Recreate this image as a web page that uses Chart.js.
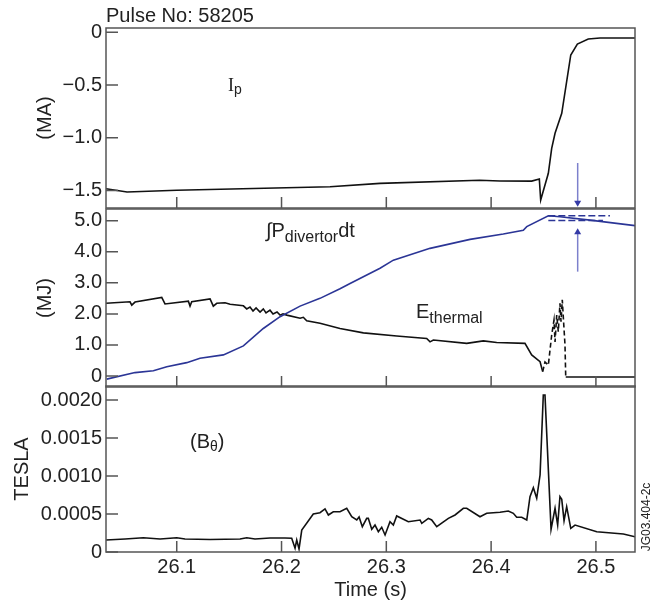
<!DOCTYPE html>
<html>
<head>
<meta charset="utf-8">
<script src="https://cdn.jsdelivr.net/npm/chart.js@4.4.1/dist/chart.umd.min.js"></script>
<style>
  body { margin: 0; background: #fff; }
  #wrap { position: relative; width: 656px; height: 608px; }
  canvas { position: absolute; left: 0; }
</style>
</head>
<body>
<div id="wrap">
  <canvas id="ipChart" width="656" height="215" style="top:0"></canvas>
  <canvas id="energyChart" width="656" height="200" style="top:195px"></canvas>
  <canvas id="bthetaChart" width="656" height="236" style="top:372px"></canvas>
</div>
<script>
// Shared time axis (s)
const timeTicks = [26.1, 26.2, 26.3, 26.4, 26.5];
const timeTickLabels = ['26.1', '26.2', '26.3', '26.4', '26.5'];

// Plasma current I_p (MA)
const ipTime = [26.0325, 26.0526, 26.1, 26.2463, 26.294, 26.389, 26.4085, 26.4387, 26.446, 26.4473,
  26.4546, 26.4578, 26.461, 26.4674, 26.476, 26.4823, 26.4927, 26.5039, 26.5373];
const ipValue = [-1.484, -1.515, -1.499, -1.465, -1.433, -1.404, -1.411, -1.412, -1.392, -1.591,
  -1.338, -1.101, -0.958, -0.768, -0.215, -0.111, -0.064, -0.054, -0.054];
const ipTicks = [0, -0.5, -1.0, -1.5];
const ipTickLabels = ['0', '\u22120.5', '\u22121.0', '\u22121.5'];

// Integrated divertor power (MJ)
const pdivTime = [26.0332, 26.0602, 26.0777, 26.0905, 26.1095, 26.1222, 26.1445, 26.1636, 26.1826, 26.1986,
  26.2177, 26.2367, 26.2558, 26.2654, 26.294, 26.3067, 26.3417, 26.3799, 26.4116, 26.4307,
  26.434, 26.4546, 26.4657, 26.4944, 26.5373];
const pdivValue = [-0.1, 0.11, 0.17, 0.30, 0.43, 0.57, 0.68, 0.97, 1.53, 1.91,
  2.25, 2.50, 2.81, 2.98, 3.47, 3.73, 4.11, 4.40, 4.57, 4.69,
  4.81, 5.16, 5.13, 5.02, 4.84];

// Thermal energy (MJ)
const ethTime = [26.0325, 26.0554, 26.0571, 26.0602, 26.0857, 26.0888, 26.1111, 26.1127, 26.1143, 26.1318,
  26.1349, 26.1382, 26.1461, 26.1509, 26.1636, 26.1668, 26.1699, 26.1728, 26.1757, 26.1795,
  26.1826, 26.1852, 26.189, 26.1919, 26.1957, 26.1986, 26.2014, 26.205, 26.2177, 26.2208,
  26.224, 26.2367, 26.2558, 26.2781, 26.3099, 26.3385, 26.3417, 26.3449, 26.3767, 26.3926,
  26.4053, 26.4323, 26.4387, 26.4467, 26.4492, 26.4514, 26.4546, 26.4578, 26.46, 26.461,
  26.4626, 26.4641, 26.4657, 26.4667, 26.4679, 26.4705, 26.4712, 26.5373];
const ethValue = [2.34, 2.39, 2.28, 2.38, 2.53, 2.32, 2.41, 2.25, 2.39, 2.48,
  2.25, 2.34, 2.36, 2.31, 2.26, 2.16, 2.22, 2.09, 2.19, 2.06,
  2.16, 2.03, 2.12, 2.00, 2.06, 1.96, 2.00, 1.96, 1.86, 1.89,
  1.78, 1.70, 1.53, 1.39, 1.29, 1.21, 1.10, 1.16, 1.05, 1.13,
  1.08, 1.05, 0.68, 0.46, 0.14, 0.45, 0.35, 1.32, 1.80, 1.10,
  1.96, 1.43, 2.34, 1.75, 2.45, 1.00, -0.03, -0.03];
const ethDashStart = 26.4492;
const ethDashEnd = 26.4712;

// Reference levels (dashed, blue)
const levelTime = [26.4546, 26.5134];
const levelUpper = [5.16, 5.16];
const levelLowerTime = [26.4546, 26.5067];
const levelLower = [5.01, 5.01];
const energyTicks = [0, 1, 2, 3, 4, 5];
const energyTickLabels = ['0', '1.0', '2.0', '3.0', '4.0', '5.0'];

// Poloidal field B_theta (T)
const bTime = [26.0325, 26.0507, 26.0681, 26.0841, 26.1, 26.1079, 26.1318, 26.1604, 26.1668, 26.1747,
  26.189, 26.2033, 26.2097, 26.2129, 26.2145, 26.2167, 26.2193, 26.2303, 26.2367, 26.2415,
  26.2447, 26.2494, 26.2558, 26.2622, 26.267, 26.2718, 26.274, 26.2771, 26.2813, 26.2828,
  26.2861, 26.2892, 26.2924, 26.2956, 26.2988, 26.3035, 26.3067, 26.3099, 26.321, 26.3322,
  26.3338, 26.3401, 26.3433, 26.3481, 26.3592, 26.3656, 26.3735, 26.3767, 26.3894, 26.3958,
  26.4085, 26.4164, 26.4212, 26.4244, 26.4292, 26.434, 26.4371, 26.4403, 26.4435, 26.4467,
  26.4498, 26.4514, 26.4572, 26.461, 26.4635, 26.4657, 26.4674, 26.4696, 26.4721, 26.476,
  26.4801, 26.5008, 26.5262, 26.5373];
const bValue = [0.000158, 0.000171, 0.000188, 0.000171, 0.000188, 0.000171, 0.000164, 0.000171, 0.000188, 0.000171,
  0.000184, 0.000184, 0.00018, 0.000049, 0.000158, 0.00004, 0.000289, 0.0005, 0.000517, 0.000566,
  0.000487, 0.00053, 0.00053, 0.000575, 0.000464, 0.000421, 0.00046, 0.000333, 0.000443, 0.000443,
  0.000299, 0.000355, 0.000267, 0.000325, 0.000224, 0.000399, 0.000355, 0.000474, 0.000399, 0.000421,
  0.000378, 0.000443, 0.000421, 0.000333, 0.000443, 0.000487, 0.000575, 0.000575, 0.000464, 0.000509,
  0.000522, 0.00054, 0.000509, 0.000457, 0.000457, 0.000421, 0.000728, 0.000846, 0.000707, 0.001013,
  0.002066, 0.002066, 0.000299, 0.000575, 0.000355, 0.000728, 0.000693, 0.000412, 0.000596, 0.000312,
  0.000355, 0.000267, 0.000237, 0.000201];
const bTicks = [0, 0.0005, 0.0010, 0.0015, 0.0020];
const bTickLabels = ['0', '0.0005', '0.0010', '0.0015', '0.0020'];

const FONT = "'Liberation Sans', Arial, Helvetica, sans-serif";
const SERIF = "'Liberation Serif', 'Times New Roman', serif";
const INK = '#222';
const FRAME = '#555';
const BLUE = '#2b3596';
const ARROW_LINE = '#7c80cc';
const ARROW_HEAD = '#343aa6';

function toPoints(xs, ys) {
  return xs.map((x, i) => ({ x: x, y: ys[i] }));
}

// Draw a run of text pieces (for subscripts), left aligned at baseline
function drawRuns(ctx, x, y, runs) {
  ctx.textAlign = 'left';
  ctx.textBaseline = 'alphabetic';
  ctx.fillStyle = INK;
  runs.forEach(r => {
    ctx.font = r.size + 'px ' + (r.family || FONT);
    ctx.fillText(r.text, x, y + (r.dy || 0));
    x += ctx.measureText(r.text).width;
  });
}

function drawArrow(ctx, x, yFrom, yTo) {
  const dir = yTo > yFrom ? 1 : -1;
  ctx.strokeStyle = ARROW_LINE;
  ctx.lineWidth = 1.5;
  ctx.beginPath();
  ctx.moveTo(x, yFrom);
  ctx.lineTo(x, yTo - dir * 5);
  ctx.stroke();
  ctx.fillStyle = ARROW_HEAD;
  ctx.beginPath();
  ctx.moveTo(x, yTo);
  ctx.lineTo(x - 3.5, yTo - dir * 6);
  ctx.lineTo(x + 3.5, yTo - dir * 6);
  ctx.closePath();
  ctx.fill();
}

// Frame, inward tick marks, arrows and text labels for each panel
const panelDeco = {
  id: 'panelDeco',
  afterDraw(chart, args, opts) {
    const ctx = chart.ctx;
    const a = chart.chartArea;
    const xs = chart.scales.x;
    const ys = chart.scales.y;
    ctx.save();
    ctx.strokeStyle = FRAME;
    ctx.lineWidth = 1.5;
    ctx.strokeRect(a.left, a.top, a.right - a.left, a.bottom - a.top);
    ctx.beginPath();
    ys.ticks.forEach(t => {
      const y = ys.getPixelForValue(t.value);
      ctx.moveTo(a.left, y);
      ctx.lineTo(a.left + 12, y);
    });
    timeTicks.forEach(v => {
      const x = xs.getPixelForValue(v);
      ctx.moveTo(x, a.bottom);
      ctx.lineTo(x, a.bottom - 11);
    });
    ctx.stroke();

    (opts.arrows || []).forEach(ar => {
      drawArrow(ctx, xs.getPixelForValue(ar.x), ys.getPixelForValue(ar.from), ys.getPixelForValue(ar.to));
    });
    (opts.labels || []).forEach(l => {
      drawRuns(ctx, xs.getPixelForValue(l.x), ys.getPixelForValue(l.y), l.runs);
    });
    if (opts.heading) {
      drawRuns(ctx, a.left, a.top - 5.7, [{ text: opts.heading, size: 20 }]);
    }
    if (opts.figId) {
      ctx.translate(a.right + 12, a.bottom - 35);
      ctx.rotate(-Math.PI / 2);
      ctx.font = '12px ' + FONT;
      ctx.fillStyle = INK;
      ctx.textAlign = 'center';
      ctx.textBaseline = 'middle';
      ctx.fillText(opts.figId, 0, 0);
    }
    ctx.restore();
  }
};

// drop the label overhang padding so the layout padding alone fixes the plot box
function noOverhang(s) {
  s.paddingTop = 0;
  s.paddingBottom = 0;
  s.paddingLeft = 0;
  s.paddingRight = 0;
}

function yAxis(min, max, ticks, labels, title, titlePad) {
  return {
    type: 'linear',
    min: min,
    max: max,
    afterFit: s => { s.width = 106; noOverhang(s); },
    afterBuildTicks: s => { s.ticks = ticks.map(v => ({ value: v })); },
    grid: { display: false, drawTicks: false },
    border: { display: false },
    ticks: {
      padding: 4,
      color: INK,
      font: { family: FONT, size: 20 },
      callback: (v, i) => labels[i]
    },
    title: {
      display: true,
      text: title,
      color: INK,
      font: { family: FONT, size: 20 },
      padding: { top: titlePad, bottom: 0 }
    }
  };
}

function xAxis(showLabels) {
  const axis = {
    type: 'linear',
    min: 26.0325,
    max: 26.5373,
    afterBuildTicks: s => { s.ticks = timeTicks.map(v => ({ value: v })); },
    display: showLabels,
    grid: { display: false, drawTicks: false },
    border: { display: false },
    ticks: {
      padding: 3,
      color: INK,
      maxRotation: 0,
      font: { family: FONT, size: 20 },
      callback: (v, i) => timeTickLabels[i]
    }
  };
  if (showLabels) {
    axis.afterFit = s => { s.height = 56; noOverhang(s); };
    axis.title = {
      display: true,
      text: 'Time (s)',
      color: INK,
      font: { family: FONT, size: 20 },
      padding: { top: 0, bottom: 6 }
    };
  }
  return axis;
}

function baseOptions(padding, xShow, yCfg, deco) {
  return {
    responsive: false,
    animation: false,
    layout: { padding: padding },
    plugins: { legend: { display: false }, tooltip: { enabled: false }, panelDeco: deco },
    elements: { point: { radius: 0 }, line: { tension: 0 } },
    scales: { x: xAxis(xShow), y: yCfg }
  };
}

Chart.register(panelDeco);

// Top panel: plasma current
new Chart(document.getElementById('ipChart'), {
  type: 'line',
  data: {
    datasets: [{
      data: toPoints(ipTime, ipValue),
      borderColor: '#111',
      borderWidth: 1.6
    }]
  },
  options: baseOptions({ top: 28, bottom: 7, left: 0, right: 21 }, false,
    yAxis(-1.667, 0.041, ipTicks, ipTickLabels, '(MA)', 33),
    {
      heading: 'Pulse No: 58205',
      arrows: [{ x: 26.4826, from: -1.24, to: -1.655 }],
      labels: [{ x: 26.1489, y: -0.557, runs: [
        { text: 'I', size: 18, family: SERIF },
        { text: 'p', size: 14, dy: 3 }
      ] }]
    })
});

// Middle panel: energies
new Chart(document.getElementById('energyChart'), {
  type: 'line',
  data: {
    datasets: [{
      data: toPoints(pdivTime, pdivValue),
      borderColor: BLUE,
      borderWidth: 1.6
    }, {
      data: toPoints(ethTime, ethValue),
      borderColor: '#111',
      borderWidth: 1.6,
      segment: {
        borderDash: c => (c.p0.parsed.x >= ethDashStart - 1e-6 && c.p1.parsed.x <= ethDashEnd + 1e-6) ? [5, 3] : undefined
      }
    }, {
      data: toPoints(levelTime, levelUpper),
      borderColor: BLUE,
      borderWidth: 1.5,
      borderDash: [7, 3]
    }, {
      data: toPoints(levelLowerTime, levelLower),
      borderColor: BLUE,
      borderWidth: 1.5,
      borderDash: [7, 3]
    }]
  },
  options: baseOptions({ top: 14, bottom: 8, left: 0, right: 21 }, false,
    yAxis(-0.354, 5.377, energyTicks, energyTickLabels, '(MJ)', 33),
    {
      arrows: [{ x: 26.4826, from: 3.36, to: 4.76 }],
      labels: [{ x: 26.1852, y: 4.483, runs: [
        { text: '\u222B', size: 20 },
        { text: 'P', size: 20 },
        { text: 'divertor', size: 16, dy: 5 },
        { text: 'dt', size: 20 }
      ] }, { x: 26.3283, y: 1.857, runs: [
        { text: 'E', size: 20 },
        { text: 'thermal', size: 16, dy: 5 }
      ] }]
    })
});

// Bottom panel: poloidal field
new Chart(document.getElementById('bthetaChart'), {
  type: 'line',
  data: {
    datasets: [{
      data: toPoints(bTime, bValue),
      borderColor: '#111',
      borderWidth: 1.6
    }]
  },
  options: baseOptions({ top: 14, bottom: 0, left: 0, right: 21 }, true,
    yAxis(0, 0.002184, bTicks, bTickLabels, 'TESLA', 10),
    {
      figId: 'JG03.404-2c',
      labels: [{ x: 26.1127, y: 0.001372, runs: [
        { text: '(', size: 20 },
        { text: 'B', size: 20 },
        { text: '\u03B8', size: 14, dy: 3 },
        { text: ')', size: 20 }
      ] }]
    })
});
</script>
</body>
</html>
